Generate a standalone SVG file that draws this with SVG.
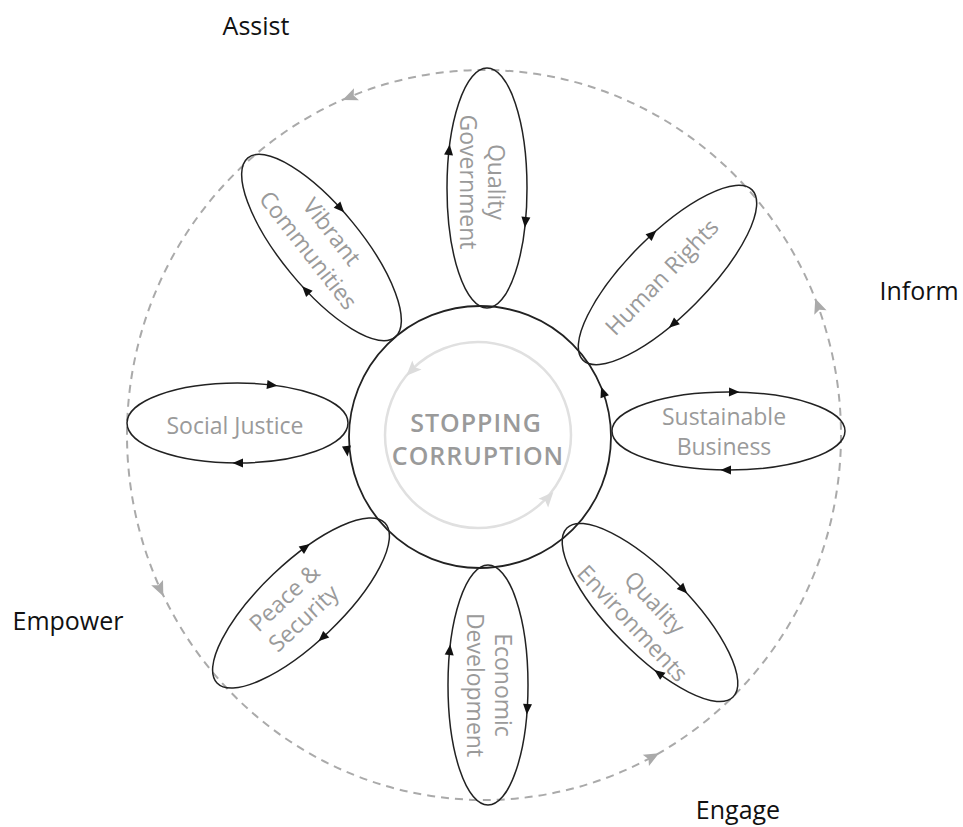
<svg xmlns="http://www.w3.org/2000/svg" xmlns:xlink="http://www.w3.org/1999/xlink" width="963" height="827" viewBox="0 0 963 827">
<style>
.petal{fill:none;stroke:#222;stroke-width:1.5}
.pt{font-family:"Open Sans","Liberation Sans",sans-serif;font-size:23px;fill:#9a9a9a;text-anchor:middle}
.ct{font-family:"Open Sans","Liberation Sans",sans-serif;font-size:25px;font-weight:600;fill:#9a9a9a;text-anchor:middle;letter-spacing:1px}
.lab{font-family:"Open Sans","Liberation Sans",sans-serif;font-size:25px;fill:#111;text-anchor:middle}
</style>
<defs>
<path id="ab" d="M5.5,0 L-5,-4.5 L-5,4.5 Z" fill="#111"/>
<path id="ag" d="M8,0 L-7,-6.5 L-4,0 L-7,6.5 Z" fill="#aaa"/>
<path id="al" d="M8,0 L-7,-6.5 L-4,0 L-7,6.5 Z" fill="#dcdcdc"/>
</defs>
<rect width="963" height="827" fill="#fff"/>
<g id="connectors">
<ellipse cx="484" cy="435" rx="357" ry="365" fill="none" stroke="#aaa" stroke-width="2" stroke-dasharray="8 6"/>
<use href="#ag" transform="translate(350,97) rotate(157.5)"/>
<use href="#ag" transform="translate(818,306) rotate(-110)"/>
<use href="#ag" transform="translate(160,589) rotate(65.5)"/>
<use href="#ag" transform="translate(652,757) rotate(-28.6)"/>
</g>
<g id="labels">
<text class="lab" x="256" y="35">Assist</text>
<text class="lab" x="919" y="300">Inform</text>
<text class="lab" x="68" y="630">Empower</text>
<text class="lab" x="738" y="819">Engage</text>
</g>
<g id="center">
<circle cx="480" cy="437" r="131" fill="none" stroke="#222" stroke-width="1.8"/>
<use href="#ab" transform="translate(603,392) rotate(-110)"/>
<use href="#ab" transform="translate(347,451) rotate(84)"/>
<circle cx="478" cy="435" r="93" fill="none" stroke="#e0e0e0" stroke-width="2.5"/>
<use href="#al" transform="translate(412,370) rotate(134.6)"/>
<use href="#al" transform="translate(548,498) rotate(-48)"/>
<text class="ct" x="476" y="432">STOPPING</text>
<text class="ct" x="478" y="465">CORRUPTION</text>
</g>
<g id="quality-government">
<ellipse class="petal" cx="487" cy="188" rx="40" ry="120"/>
<use href="#ab" transform="translate(449.1,150) rotate(-83.6)"/>
<use href="#ab" transform="translate(525.4,222) rotate(95.6)"/>
<g transform="translate(483,182) rotate(90)"><text class="pt" y="-5">Quality</text><text class="pt" y="23">Government</text></g>
</g>
<g id="human-rights">
<g transform="translate(667.5,275) rotate(-45.2)"><ellipse class="petal" rx="120" ry="40"/>
<use href="#ab" transform="translate(18.2,-39.5) rotate(2.9)"/>
<use href="#ab" transform="translate(-30.9,38.6) rotate(185)"/></g>
<g transform="translate(662,277) rotate(-46)"><text class="pt" y="8">Human Rights</text></g>
</g>
<g id="sustainable-business">
<ellipse class="petal" cx="728.5" cy="431" rx="116.5" ry="39"/>
<use href="#ab" transform="translate(734,392) rotate(0.9)"/>
<use href="#ab" transform="translate(726,470) rotate(180.4)"/>
<g transform="translate(724,431)"><text class="pt" y="-6">Sustainable</text><text class="pt" y="24">Business</text></g>
</g>
<g id="quality-environments">
<g transform="translate(650,612.5) rotate(45.5)"><ellipse class="petal" rx="118.5" ry="40"/>
<use href="#ab" transform="translate(7,-40) rotate(1.2)"/>
<use href="#ab" transform="translate(49.5,36.3) rotate(171.2)"/></g>
<g transform="translate(643.5,613) rotate(47)"><text class="pt" y="-7">Quality</text><text class="pt" y="23">Environments</text></g>
</g>
<g id="economic-development">
<ellipse class="petal" cx="488" cy="685" rx="40" ry="120"/>
<use href="#ab" transform="translate(449.7,650) rotate(-84.2)"/>
<use href="#ab" transform="translate(527.2,709) rotate(93.9)"/>
<g transform="translate(490,685) rotate(90)"><text class="pt" y="-5">Economic</text><text class="pt" y="23">Development</text></g>
</g>
<g id="peace-security">
<g transform="translate(301,603) rotate(-43.6)"><ellipse class="petal" rx="116" ry="40"/>
<use href="#ab" transform="translate(41.6,-37.3) rotate(7.6)"/>
<use href="#ab" transform="translate(-8.3,39.9) rotate(181.4)"/></g>
<g transform="translate(294,608) rotate(-43)"><text class="pt" y="-6">Peace &amp;</text><text class="pt" y="22">Security</text></g>
</g>
<g id="social-justice">
<ellipse class="petal" cx="237.5" cy="423" rx="110.5" ry="40"/>
<use href="#ab" transform="translate(272,385) rotate(6.8)"/>
<use href="#ab" transform="translate(238,463) rotate(180)"/>
<text class="pt" x="235" y="434">Social Justice</text>
</g>
<g id="vibrant-communities">
<g transform="translate(321.5,247.5) rotate(50.6)"><ellipse class="petal" rx="116" ry="40"/>
<use href="#ab" transform="translate(-18.3,-39.5) rotate(-3.1)"/>
<use href="#ab" transform="translate(23.2,39.2) rotate(176)"/></g>
<g transform="translate(320,241) rotate(52)"><text class="pt" y="-7">Vibrant</text><text class="pt" y="23">Communities</text></g>
</g>
</svg>
